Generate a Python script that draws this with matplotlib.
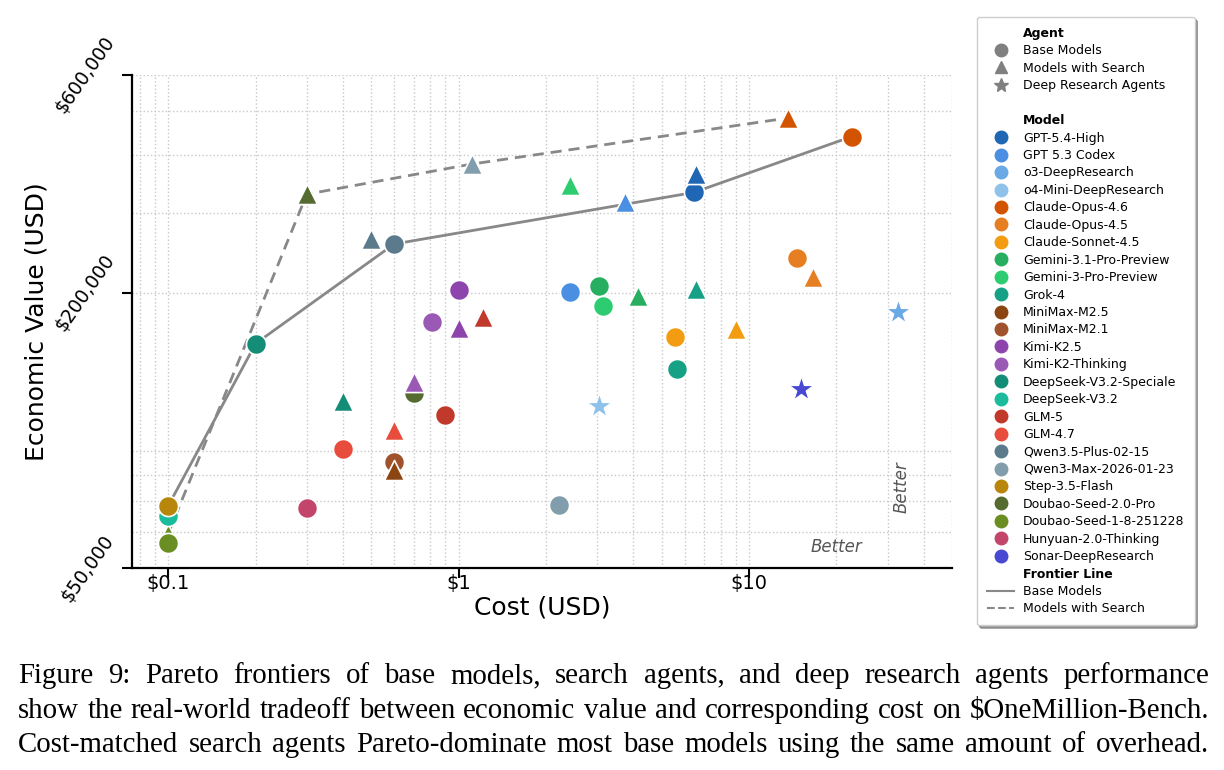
import matplotlib
matplotlib.use("Agg")
import matplotlib.pyplot as plt
from matplotlib.lines import Line2D
from matplotlib.ticker import NullFormatter

# legend order of models and their colours
model_names = ["GPT-5.4-High", "GPT 5.3 Codex", "o3-DeepResearch", "o4-Mini-DeepResearch",
               "Claude-Opus-4.6", "Claude-Opus-4.5", "Claude-Sonnet-4.5",
               "Gemini-3.1-Pro-Preview", "Gemini-3-Pro-Preview", "Grok-4",
               "MiniMax-M2.5", "MiniMax-M2.1", "Kimi-K2.5", "Kimi-K2-Thinking",
               "DeepSeek-V3.2-Speciale", "DeepSeek-V3.2", "GLM-5", "GLM-4.7",
               "Qwen3.5-Plus-02-15", "Qwen3-Max-2026-01-23", "Step-3.5-Flash",
               "Doubao-Seed-2.0-Pro", "Doubao-Seed-1-8-251228", "Hunyuan-2.0-Thinking",
               "Sonar-DeepResearch"]
model_colors = ["#1f67b5", "#4a8fe2", "#6aa9e6", "#8fc2ea",
                "#d35400", "#e67e22", "#f39c12",
                "#27ae60", "#2ecc71", "#16a085",
                "#8b4513", "#a0522d", "#8e44ad", "#9b59b6",
                "#138d75", "#1abc9c", "#c0392b", "#e74c3c",
                "#5b7a8c", "#829dab", "#b8860b",
                "#556b2f", "#6b8e23", "#c4456b",
                "#4848d2"]
color_of = dict(zip(model_names, model_colors))

# base models (circles)
base_models = ["GPT-5.4-High", "GPT 5.3 Codex", "Claude-Opus-4.6", "Claude-Opus-4.5",
               "Claude-Sonnet-4.5", "Gemini-3.1-Pro-Preview", "Gemini-3-Pro-Preview", "Grok-4",
               "MiniMax-M2.1", "Kimi-K2.5", "Kimi-K2-Thinking", "DeepSeek-V3.2-Speciale",
               "DeepSeek-V3.2", "GLM-5", "GLM-4.7", "Qwen3.5-Plus-02-15", "Qwen3-Max-2026-01-23",
               "Doubao-Seed-2.0-Pro", "Doubao-Seed-1-8-251228", "Hunyuan-2.0-Thinking",
               "Step-3.5-Flash"]
base_cost = [6.46, 2.41, 22.6, 14.6, 5.56, 3.04, 3.14, 5.65,
             0.60, 1.0, 0.81, 0.20, 0.1, 0.90, 0.40, 0.60, 2.21,
             0.70, 0.1, 0.30, 0.1]
base_value = [332000, 201000, 440000, 238000, 160000, 207000, 187000, 136000,
              85500, 203000, 173000, 155000, 65000, 108000, 91300, 256000, 68700,
              121000, 56700, 67800, 68400]

# models with search (triangles)
search_models = ["Doubao-Seed-1-8-251228", "GPT-5.4-High", "GPT 5.3 Codex", "Claude-Opus-4.6",
                 "Claude-Opus-4.5", "Claude-Sonnet-4.5", "Gemini-3.1-Pro-Preview",
                 "Gemini-3-Pro-Preview", "Grok-4", "MiniMax-M2.5", "Kimi-K2.5",
                 "Kimi-K2-Thinking", "DeepSeek-V3.2-Speciale", "GLM-5", "GLM-4.7",
                 "Qwen3.5-Plus-02-15", "Qwen3-Max-2026-01-23", "Doubao-Seed-2.0-Pro"]
search_cost = [0.1, 6.56, 3.74, 13.6, 16.6, 9.02, 4.14, 2.41, 6.56,
               0.60, 1.0, 0.70, 0.40, 1.21, 0.60, 0.50, 1.11, 0.30]
search_value = [59500, 364000, 317000, 483000, 217000, 167000, 197000, 344000, 204000,
                82000, 168000, 128000, 116000, 177000, 100500, 263000, 383000, 329000]

# deep research agents (stars)
deep_models = ["o3-DeepResearch", "o4-Mini-DeepResearch", "Sonar-DeepResearch"]
deep_cost = [32.6, 3.04, 15.1]
deep_value = [182000, 113000, 123000]


def pareto(costs, values):
    front = []
    best = -1
    for c, v in sorted(zip(costs, values), key=lambda p: (p[0], -p[1])):
        if v > best:
            front.append((c, v))
            best = v
    return front


fig = plt.figure(figsize=(12.24, 7.70), dpi=100)
ax = fig.add_axes([0.1078, 0.2623, 0.6700, 0.6403])
ax.set_xscale("log")
ax.set_yscale("log")

# frontier lines
bf = pareto(base_cost, base_value)
sf = pareto(search_cost, search_value)
ax.plot([p[0] for p in bf], [p[1] for p in bf], color="#888888", lw=2, zorder=2)
ax.plot([p[0] for p in sf], [p[1] for p in sf], color="#888888", lw=2,
        linestyle=(0, (4, 2.5)), zorder=2)

# the 0.1 search point sits under the cheap base models
ax.scatter(search_cost[0], search_value[0], s=210, marker="^", color=color_of[search_models[0]],
           edgecolor="white", linewidth=1.2, zorder=3)
for m, c, v in zip(base_models, base_cost, base_value):
    ax.scatter(c, v, s=210, marker="o", color=color_of[m], edgecolor="white", linewidth=1.2, zorder=3)
for m, c, v in zip(search_models[1:], search_cost[1:], search_value[1:]):
    ax.scatter(c, v, s=210, marker="^", color=color_of[m], edgecolor="white", linewidth=1.2, zorder=3)
for m, c, v in zip(deep_models, deep_cost, deep_value):
    ax.scatter(c, v, s=340, marker="*", color=color_of[m], edgecolor="white", linewidth=0.8, zorder=3)

ax.set_xlim(0.075, 50)
ax.set_ylim(50000, 600000)
ax.set_xticks([0.1, 1, 10])
ax.set_xticklabels(["$0.1", "$1", "$10"])
ax.set_yticks([50000, 200000, 600000])
ax.set_yticklabels(["$50,000", "$200,000", "$600,000"], rotation=55, va="center")
ax.xaxis.set_minor_formatter(NullFormatter())
ax.yaxis.set_minor_formatter(NullFormatter())
ax.tick_params(which="major", labelsize=14, length=7, width=1.5)
ax.tick_params(axis="y", which="major", labelsize=13.5, pad=3)
ax.tick_params(axis="x", which="major", pad=-3)
ax.tick_params(which="minor", length=0)
ax.grid(True, which="both", linestyle=":", color="#c8c8c8", linewidth=1)
for side in ["top", "right"]:
    ax.spines[side].set_visible(False)
for side in ["left", "bottom"]:
    ax.spines[side].set_linewidth(1.6)

ax.set_xlabel("Cost (USD)", fontsize=18, labelpad=2)
ax.set_ylabel("Economic Value (USD)", fontsize=18)
ax.yaxis.set_label_coords(-0.102, 0.5)

ax.text(0.859, 0.043, "Better", transform=ax.transAxes, fontsize=12, style="italic",
        color="#555555", ha="center", va="center")
ax.text(0.939, 0.164, "Better", transform=ax.transAxes, fontsize=12, style="italic",
        color="#555555", ha="center", va="center", rotation=90)

# legend
blank = Line2D([], [], linestyle="none")
handles = [blank,
           Line2D([], [], marker="o", color="#808080", linestyle="none", markersize=9),
           Line2D([], [], marker="^", color="#808080", linestyle="none", markersize=9),
           Line2D([], [], marker="*", color="#808080", linestyle="none", markersize=10),
           blank, blank]
labels = ["Agent", "Base Models", "Models with Search", "Deep Research Agents", " ", "Model"]
for m, col in zip(model_names, model_colors):
    handles.append(Line2D([], [], marker="o", color=col, linestyle="none", markersize=9))
    labels.append(m)
handles += [blank,
            Line2D([], [], color="#888888", lw=1.5),
            Line2D([], [], color="#888888", lw=1.5, linestyle="--")]
labels += ["Frontier Line", "Base Models", "Models with Search"]

leg = fig.legend(handles, labels, loc="upper left", bbox_to_anchor=(0.798, 0.978),
                 borderaxespad=0, fontsize=9, frameon=True, shadow=True, labelspacing=0.355,
                 borderpad=0.8, handlelength=2.2, handletextpad=0.7)
leg.get_frame().set_edgecolor("#cccccc")
for t in leg.get_texts():
    if t.get_text() in ("Agent", "Model", "Frontier Line"):
        t.set_fontweight("bold")

# caption, justified line by line
caption = ["Figure 9: Pareto frontiers of base models, search agents, and deep research agents performance",
           "show the real-world tradeoff between economic value and corresponding cost on $OneMillion-Bench.",
           "Cost-matched search agents Pareto-dominate most base models using the same amount of overhead."]
renderer = fig.canvas.get_renderer()
W = 1224.0
x0, x1 = 18, 1209
for i, line in enumerate(caption):
    y = 1 - (683 + 34.5 * i) / 770.0
    words = line.split()
    arts = [fig.text(0, y, w, fontsize=20.8, family="Liberation Serif", va="baseline") for w in words]
    widths = [a.get_window_extent(renderer).width for a in arts]
    gap = (x1 - x0 - sum(widths)) / (len(words) - 1)
    x = x0
    for a, w in zip(arts, widths):
        a.set_x(x / W)
        x += w + gap

fig.savefig("out.png", dpi=100)
